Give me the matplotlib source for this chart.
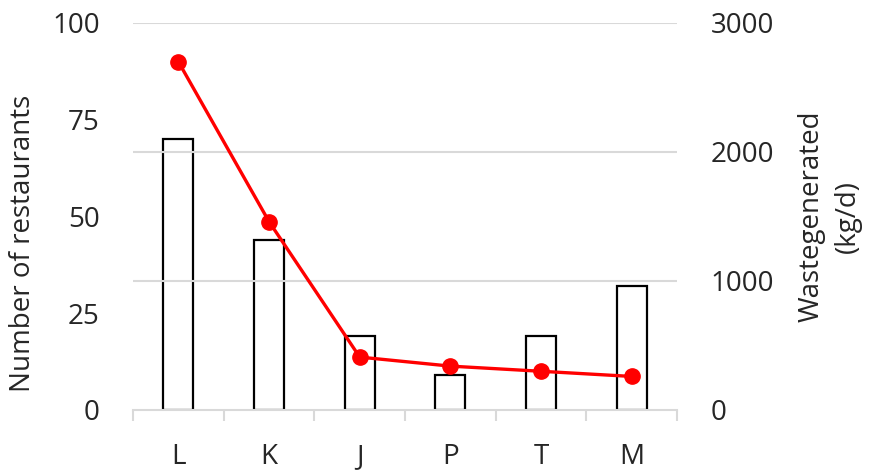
import numpy as np
import matplotlib
matplotlib.use("Agg")
import matplotlib.pyplot as plt
from matplotlib.ticker import FixedLocator

# restaurant counts (bars, left axis) and waste per day (line, right axis)
regions = ["L", "K", "J", "P", "T", "M"]
restaurants = [70, 44, 19, 9, 19, 32]
waste_kg_per_day = [2700, 1460, 410, 340, 300, 260]

plt.rcParams["font.family"] = ["Open Sans", "DejaVu Sans"]
text_color = "#262626"
grid_color = "#d9d9d9"

fig = plt.figure(figsize=(8.77, 4.72), dpi=100)
ax = fig.add_axes([0.1517, 0.1314, 0.6203, 0.8199])
ax2 = ax.twinx()

x = np.arange(len(regions))
ax.bar(x, restaurants, width=0.33, facecolor="white", edgecolor="black",
       linewidth=1.6, zorder=2)
ax.set_xlim(-0.5, len(regions) - 0.5)
ax.set_ylim(0, 100)
ax.set_yticks([0, 25, 50, 75, 100])

ax2.plot(x, waste_kg_per_day, color="#ff0000", linewidth=2.4, marker="o",
         markersize=11, zorder=3)
ax2.set_ylim(0, 3000)
ax2.set_yticks([0, 1000, 2000, 3000])

# gridlines follow the right-hand scale
for v in [1000, 2000, 3000]:
    ax2.axhline(v, color=grid_color, linewidth=1.5, zorder=0)

# bars above the gridlines, line above the bars
ax.set_zorder(ax2.get_zorder() - 1)
ax.patch.set_visible(False)
ax2.patch.set_visible(False)

for a in (ax, ax2):
    for s in a.spines.values():
        s.set_visible(False)

ax.spines["bottom"].set_visible(True)
ax.spines["bottom"].set_color(grid_color)
ax.spines["bottom"].set_linewidth(1.5)

ax.set_xticks(x)
ax.set_xticklabels(regions)
ax.xaxis.set_minor_locator(FixedLocator(np.arange(-0.5, len(regions), 1.0)))
ax.tick_params(axis="x", which="major", length=0, pad=24, labelsize=20,
               labelcolor=text_color)
ax.tick_params(axis="x", which="minor", length=8, width=1.5, color=grid_color)
ax.tick_params(axis="y", length=0, pad=24, labelsize=20, labelcolor=text_color)
ax2.tick_params(axis="y", length=0, pad=24, labelsize=20, labelcolor=text_color)

ax.set_ylabel("Number of restaurants", fontsize=20, color=text_color)
ax.yaxis.set_label_coords(-0.176, 0.43)
ax2.set_ylabel("Wastegenerated\n(kg/d)", fontsize=20, color=text_color,
               rotation=90, multialignment="center", linespacing=1.4)
ax2.yaxis.set_label_coords(1.222, 0.5)

fig.savefig("out.png", dpi=100)
